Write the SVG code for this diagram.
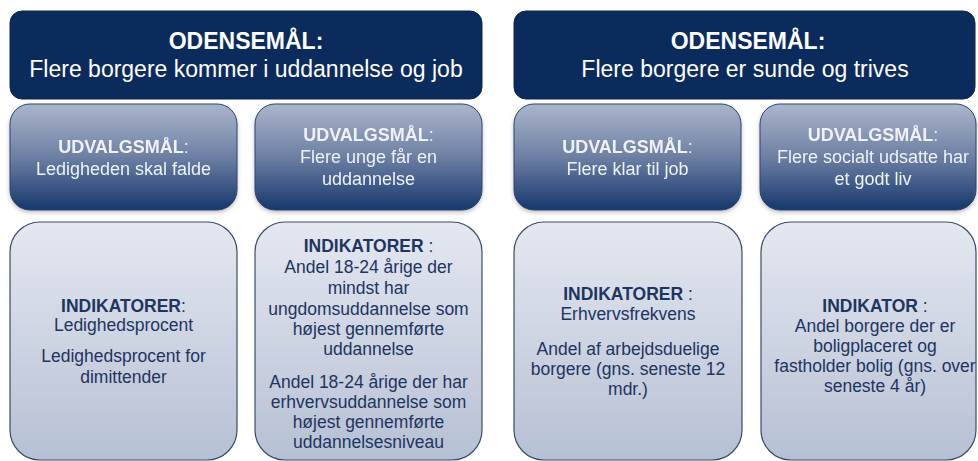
<svg xmlns="http://www.w3.org/2000/svg" width="978" height="461" viewBox="0 0 978 461">
<defs>
<linearGradient id="gMid" x1="0" y1="0" x2="0" y2="1">
<stop offset="0" stop-color="#abb6cc"/>
<stop offset="0.5" stop-color="#6d7fa3"/>
<stop offset="1" stop-color="#16386d"/>
</linearGradient>
<linearGradient id="gLow" x1="0" y1="0" x2="0" y2="1">
<stop offset="0" stop-color="#e4e8f0"/>
<stop offset="1" stop-color="#b6c0d4"/>
</linearGradient>
<filter id="sh" x="-10%" y="-10%" width="120%" height="125%">
<feDropShadow dx="0" dy="2" stdDeviation="2" flood-color="#000" flood-opacity="0.25"/>
</filter>
</defs>
<style>
.ban{fill:#0b2b5c;stroke:#0a2550;stroke-width:1}
.mid{fill:url(#gMid);stroke:#2d4470;stroke-width:1}
.low{fill:url(#gLow);stroke:#3a4c6c;stroke-width:1.2}
text{font-family:"Liberation Sans",Arial,sans-serif;text-anchor:middle}
.bt{fill:#ffffff;font-size:23px}
.mt{fill:#eef1f6;font-size:18px}
.lt{fill:#1d3560;font-size:17.5px}
.b{font-weight:bold}
</style>
<rect width="978" height="461" fill="#ffffff"/>
<g id="connectors"></g>
<g id="odense1">
<rect class="ban" x="10" y="11" width="472" height="88" rx="12"/>
<text class="bt" x="246" y="49"><tspan class="b">ODENSEMÅL:</tspan></text>
<text class="bt" x="246" y="77">Flere borgere kommer i uddannelse og job</text>
</g>
<g id="odense2">
<rect class="ban" x="514" y="11" width="461" height="88" rx="12"/>
<text class="bt" x="748" y="49"><tspan class="b">ODENSEMÅL:</tspan></text>
<text class="bt" x="745" y="77">Flere borgere er sunde og trives</text>
</g>
<g id="udvalg1" filter="url(#sh)">
<rect class="mid" x="10" y="104" width="227" height="106" rx="20"/>
<text class="mt" x="123.5" y="153"><tspan class="b">UDVALGSMÅL</tspan>:</text>
<text class="mt" x="123.5" y="175">Ledigheden skal falde</text>
</g>
<g id="udvalg2" filter="url(#sh)">
<rect class="mid" x="255" y="104" width="227" height="106" rx="20"/>
<text class="mt" x="368.5" y="141"><tspan class="b">UDVALGSMÅL</tspan>:</text>
<text class="mt" x="368.5" y="163">Flere unge får en</text>
<text class="mt" x="368.5" y="185">uddannelse</text>
</g>
<g id="udvalg3" filter="url(#sh)">
<rect class="mid" x="514" y="104" width="227" height="106" rx="20"/>
<text class="mt" x="627.5" y="153"><tspan class="b">UDVALGSMÅL</tspan>:</text>
<text class="mt" x="627.5" y="175">Flere klar til job</text>
</g>
<g id="udvalg4" filter="url(#sh)">
<rect class="mid" x="760" y="104" width="216" height="106" rx="20"/>
<text class="mt" x="873" y="141"><tspan class="b">UDVALGSMÅL</tspan>:</text>
<text class="mt" x="873" y="163">Flere socialt udsatte har</text>
<text class="mt" x="873" y="185">et godt liv</text>
</g>
<g id="indikator1">
<rect class="low" x="10" y="222" width="227" height="238" rx="30"/>
<text class="lt" x="123.5" y="312"><tspan class="b">INDIKATORER</tspan>:</text>
<text class="lt" x="123.5" y="331">Ledighedsprocent</text>
<text class="lt" x="123.5" y="362">Ledighedsprocent for</text>
<text class="lt" x="123.5" y="383">dimittender</text>
</g>
<g id="indikator2">
<rect class="low" x="255" y="222" width="227" height="238" rx="30"/>
<text class="lt" x="368.5" y="252"><tspan class="b">INDIKATORER</tspan> :</text>
<text class="lt" x="368.5" y="273">Andel 18-24 årige der</text>
<text class="lt" x="368.5" y="294">mindst har</text>
<text class="lt" x="368.5" y="315">ungdomsuddannelse som</text>
<text class="lt" x="368.5" y="335">højest gennemførte</text>
<text class="lt" x="368.5" y="355">uddannelse</text>
<text class="lt" x="368.5" y="388">Andel 18-24 årige der har</text>
<text class="lt" x="368.5" y="408">erhvervsuddannelse som</text>
<text class="lt" x="368.5" y="428">højest gennemførte</text>
<text class="lt" x="368.5" y="448">uddannelsesniveau</text>
</g>
<g id="indikator3">
<rect class="low" x="514" y="222" width="228" height="238" rx="30"/>
<text class="lt" x="628" y="300"><tspan class="b">INDIKATORER</tspan> :</text>
<text class="lt" x="628" y="320">Erhvervsfrekvens</text>
<text class="lt" x="628" y="355">Andel af arbejdsduelige</text>
<text class="lt" x="628" y="375">borgere (gns. seneste 12</text>
<text class="lt" x="628" y="395">mdr.)</text>
</g>
<g id="indikator4">
<rect class="low" x="761" y="222" width="215" height="238" rx="30"/>
<text class="lt" x="875" y="312"><tspan class="b">INDIKATOR</tspan> :</text>
<text class="lt" x="875" y="332">Andel borgere der er</text>
<text class="lt" x="875" y="352">boligplaceret og</text>
<text class="lt" x="875" y="372">fastholder bolig (gns. over</text>
<text class="lt" x="875" y="392">seneste 4 år)</text>
</g>
</svg>
